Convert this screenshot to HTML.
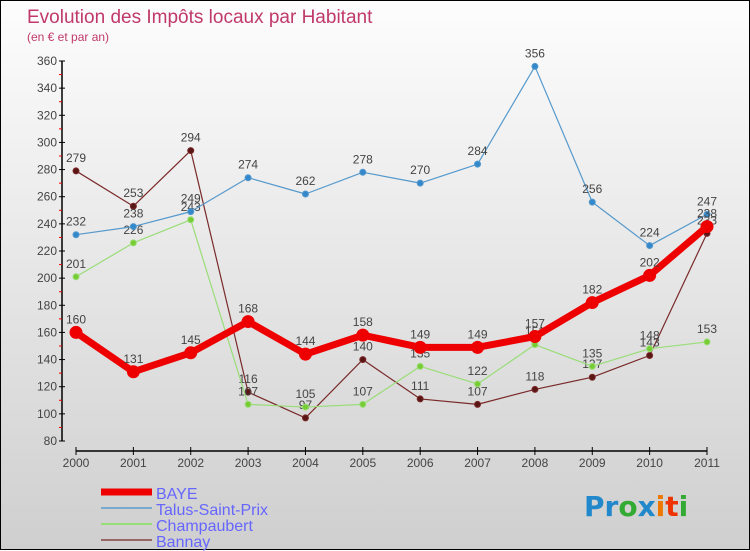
<!DOCTYPE html>
<html><head><meta charset="utf-8"><style>
body{margin:0;width:750px;height:550px;overflow:hidden;font-family:"Liberation Sans",sans-serif}
#wrap{position:relative;width:748px;height:548px;border:1px solid #000;background:linear-gradient(#fdfdfd,#cfcfcf)}
svg{position:absolute;left:0;top:0}
</style></head><body>
<div id="wrap">
<svg id="chart" width="750" height="550">
<text x="26" y="22" font-size="19" fill="#c0396a">Evolution des Impôts locaux par Habitant</text>
<text x="26" y="40" font-size="12" fill="#c0396a">(en € et par an)</text>
</svg>
</div>
<script>
const years=["2000","2001","2002","2003","2004","2005","2006","2007","2008","2009","2010","2011"];
const yTicks=[80,100,120,140,160,180,200,220,240,260,280,300,320,340,360];
const baye=[160,131,145,168,144,158,149,149,157,182,202,238];
const talus=[232,238,249,274,262,278,270,284,356,256,224,247];
const champ=[201,226,243,107,105,107,135,122,151,135,148,153];
const bannay=[279,253,294,116,97,140,111,107,118,127,143,233];
const svg=document.getElementById('chart');
const NS='http://www.w3.org/2000/svg';
const xS=i=>75+i*(706-75)/11;
const yS=v=>440-(v-80)*(380/280);
function mk(t,a,p){const e=document.createElementNS(NS,t);for(const k in a)e.setAttribute(k,a[k]);(p||svg).appendChild(e);return e;}
// y axis
let ya=mk('line',{x1:61,y1:60,x2:61,y2:440,stroke:'#000','stroke-width':1.5});


yTicks.forEach((v,i)=>{
  mk('line',{x1:58,y1:yS(v),x2:64,y2:yS(v),stroke:'#000'});
  if(i<yTicks.length-1) mk('line',{x1:58,y1:yS(v+10),x2:61,y2:yS(v+10),stroke:'#e00'});
  const t=mk('text',{x:56,y:yS(v)+4,'font-size':12,fill:'#444','text-anchor':'end'});
  t.textContent=v;
  
  
});
let xa=mk('line',{x1:75,y1:450,x2:706,y2:450,stroke:'#000','stroke-width':1.5});


years.forEach((y,i)=>{
  mk('line',{x1:xS(i),y1:446,x2:xS(i),y2:454,stroke:'#000'});
  const t=mk('text',{x:xS(i),y:466,'font-size':12,fill:'#444','text-anchor':'middle'});
  t.textContent=y;
  
  
});
function series(data,color,dot,w,r,name,labels){
  const g=mk('g',{});
  
  
  mk('polyline',{points:data.map((v,i)=>xS(i)+','+yS(v)).join(' '),fill:'none',stroke:color,'stroke-width':w,'stroke-linejoin':'round'},g);
  data.forEach((v,i)=>{
    const c=mk('circle',{cx:xS(i),cy:yS(v),r:r,fill:dot,stroke:color,'stroke-width':1},g);
    
    
    const t=mk('text',{x:xS(i),y:yS(v)-9,'font-size':12,fill:'#444','text-anchor':'middle'},g);
    t.textContent=v;
    
    
  });
}
series(bannay,'#7a2a2a','#5a1515',1.2,3,'bannay');
series(champ,'#99dd77','#77cc33',1.2,3,'champaubert');
series(talus,'#5599cc','#3388cc',1.2,3,'talus-saint-prix');
series(baye,'#ee0000','#ee0000',7,6,'baye');
const leg=[['BAYE','#ee0000',7],['Talus-Saint-Prix','#77aacc',2],['Champaubert','#99dd77',2],['Bannay','#996666',2]];
leg.forEach((l,i)=>{
  const y=491+i*16;
  const g=mk('g',{});
  
  
  mk('line',{x1:100,y1:y,x2:151,y2:y,stroke:l[1],'stroke-width':l[2]},g);
  const t=mk('text',{x:155,y:y+7,'font-size':16,fill:'#6666ff'},g);
  t.textContent=l[0];
});
const logo=mk('text',{x:583,y:515,'font-size':28,'font-weight':'bold','font-family':'DejaVu Sans, sans-serif'});


[['Pr','#2288cc'],['o','#33aa33'],['x','#2288cc'],['i','#ee7700'],['t','#ee3300'],['i','#33aa33']].forEach(p=>{const s=mk('tspan',{fill:p[1]},logo);s.textContent=p[0];});
</script>
</body></html>
